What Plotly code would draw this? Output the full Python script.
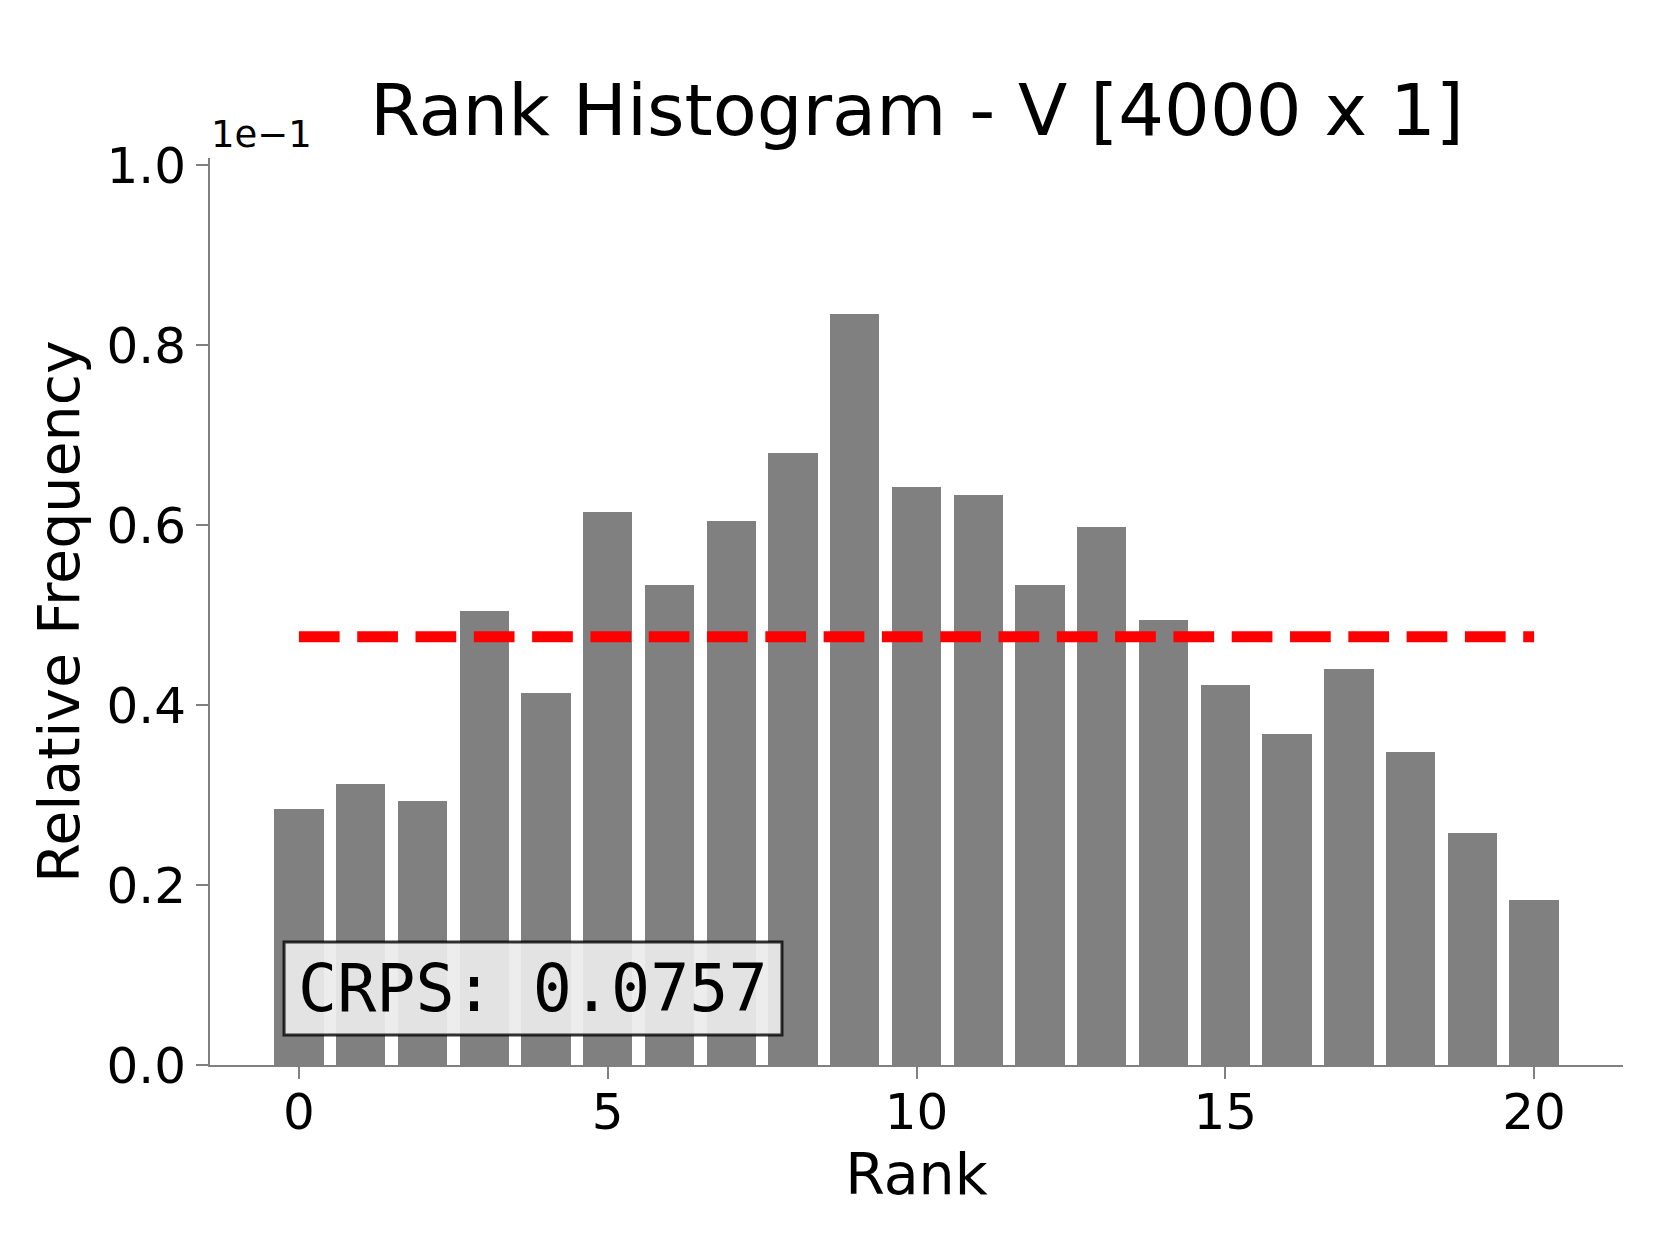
import plotly.graph_objects as go

# ---- data ----
ranks = list(range(21))
rel_freq = [0.0285, 0.0312, 0.0293, 0.0505, 0.0413, 0.0615, 0.0533, 0.0605,
            0.0680, 0.0835, 0.0642, 0.0633, 0.0533, 0.0598, 0.0495, 0.0422,
            0.0368, 0.0440, 0.0348, 0.0258, 0.0183]
expected_freq = 0.0476
crps_value = 0.0757
y_tick_vals = [0.0, 0.02, 0.04, 0.06, 0.08, 0.10]
y_tick_text = ["0.0", "0.2", "0.4", "0.6", "0.8", "1.0"]
x_tick_vals = [0, 5, 10, 15, 20]
title_text = "Rank Histogram - V [4000 x 1]"

FONT = "DejaVu Sans"
AXIS_GRAY = "#808080"

fig = go.Figure()
fig.add_trace(go.Bar(x=ranks, y=rel_freq, width=0.8,
                     marker=dict(color="#808080", line=dict(width=0)),
                     showlegend=False))
fig.add_trace(go.Scatter(x=[ranks[0], ranks[-1]], y=[expected_freq, expected_freq],
                         mode="lines",
                         line=dict(color="#ff0000", width=11, dash="40.7px,17.6px"),
                         showlegend=False))

fig.update_layout(
    width=1660, height=1245,
    margin=dict(l=202, r=45, t=150, b=188),
    paper_bgcolor="white", plot_bgcolor="white",
    font=dict(family=FONT, color="black"),
    bargap=0,
    xaxis=dict(range=[-1.44, 21.44], showgrid=False, zeroline=False,
               showline=True, linecolor=AXIS_GRAY, linewidth=2,
               ticks="outside", ticklen=12, tickwidth=2, tickcolor=AXIS_GRAY,
               tickvals=x_tick_vals, tickfont=dict(size=50, family=FONT),
               ticklabelstandoff=-10,
               title=dict(text="Rank", font=dict(size=57, family=FONT), standoff=13)),
    yaxis=dict(range=[0, 0.1008], showgrid=False, zeroline=False,
               showline=True, linecolor=AXIS_GRAY, linewidth=2,
               ticks="outside", ticklen=12, tickwidth=2, tickcolor=AXIS_GRAY,
               tickvals=y_tick_vals, ticktext=y_tick_text,
               tickfont=dict(size=50, family=FONT),
               title=dict(text="Relative Frequency", font=dict(size=57, family=FONT), standoff=9)),
)

# title
fig.add_annotation(text=title_text, xref="paper", yref="paper", x=0.5, y=1.004,
                   xanchor="center", yanchor="bottom", showarrow=False,
                   font=dict(size=72, family=FONT, color="black"))
# offset text
fig.add_annotation(text="1e\u22121", xref="paper", yref="paper", x=-0.001, y=1.0,
                   xanchor="left", yanchor="bottom", showarrow=False,
                   font=dict(size=37, family=FONT, color="black"))

# CRPS box
fig.add_shape(type="rect", xref="paper", yref="paper",
              x0=0.0524, x1=0.4048, y0=0.0331, y1=0.1356,
              fillcolor="rgba(236,236,236,0.92)",
              line=dict(color="rgba(0,0,0,0.8)", width=3), layer="above")
fig.add_annotation(text=f"CRPS: {crps_value:.4f}", xref="paper", yref="paper",
                   x=0.2286, y=0.0843, xanchor="center", yanchor="middle",
                   showarrow=False,
                   font=dict(size=65, family="DejaVu Sans Mono", color="black"))

fig.write_html("out.html")
